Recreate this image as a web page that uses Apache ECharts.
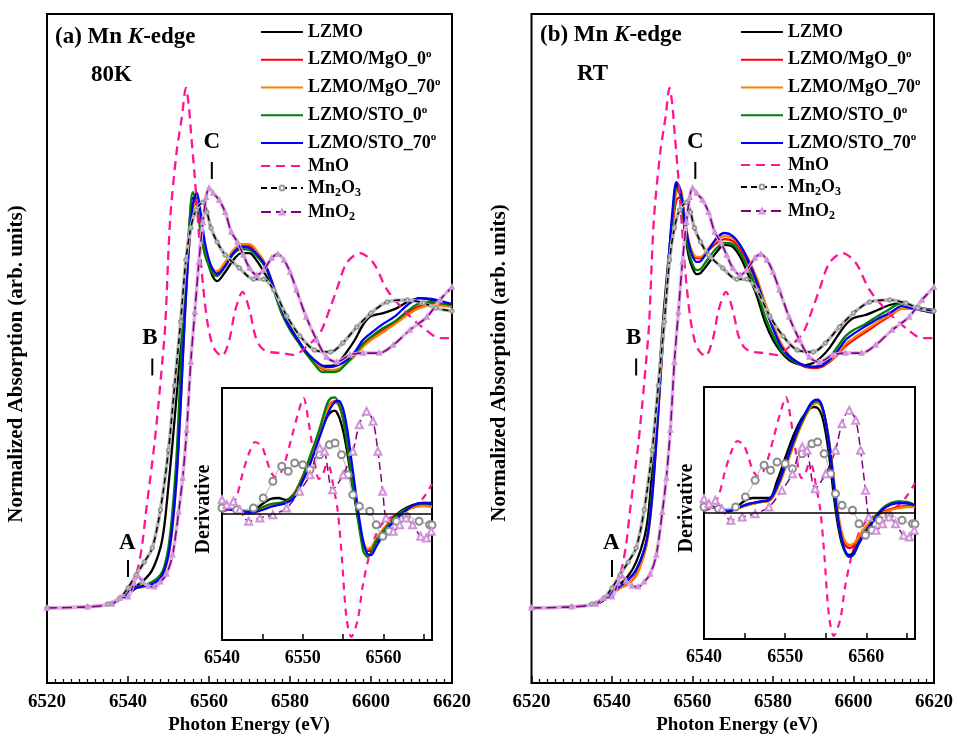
<!DOCTYPE html>
<html>
<head>
<meta charset="utf-8">
<title>Mn K-edge XANES</title>
<script src="https://cdn.jsdelivr.net/npm/echarts@6.0.0/dist/echarts.min.js"></script>
<style>
  html, body { margin: 0; padding: 0; background: #fff; }
  #chart { width: 956px; height: 735px; }
</style>
</head>
<body>
<div id="chart"></div>
<script>
// ---------- data (normalized absorption, step = 1) ----------
const eMain = [6520, 6530, 6536, 6538, 6540, 6542, 6544, 6546, 6548, 6549, 6550, 6551, 6552, 6553, 6554, 6555, 6556, 6557, 6558, 6559, 6560, 6561, 6562, 6564, 6566, 6568, 6570, 6572, 6574, 6576, 6578, 6580, 6582, 6584, 6586, 6588, 6590, 6592, 6594, 6596, 6598, 6600, 6603, 6606, 6609, 6612, 6615, 6618, 6620];

// (a) 80K
const aLZMO  = [0, .004, .014, .036, .058, .079, .101, .137, .216, .299, .442, .594, .766, .946, 1.144, 1.331, 1.475, 1.475, 1.378, 1.288, 1.230, 1.191, 1.176, 1.209, 1.252, 1.277, 1.277, 1.245, 1.198, 1.151, 1.086, 1.014, .964, .921, .892, .871, .871, .885, .921, .964, 1.018, 1.050, 1.061, 1.076, 1.101, 1.115, 1.108, 1.094, 1.083];
const aMgO0  = [0, .004, .014, .032, .05, .072, .076, .083, .104, .137, .198, .309, .489, .755, 1.054, 1.295, 1.450, 1.475, 1.396, 1.299, 1.245, 1.216, 1.205, 1.237, 1.281, 1.302, 1.302, 1.273, 1.230, 1.147, 1.061, 1.004, .960, .917, .885, .860, .853, .856, .881, .910, .946, .971, 1.0, 1.029, 1.061, 1.086, 1.094, 1.090, 1.086];
const aMgO70 = [0, .004, .014, .032, .05, .072, .076, .083, .104, .133, .187, .291, .460, .730, 1.036, 1.281, 1.432, 1.468, 1.388, 1.295, 1.245, 1.219, 1.212, 1.245, 1.288, 1.309, 1.309, 1.281, 1.237, 1.155, 1.065, 1.004, .960, .921, .888, .863, .856, .860, .881, .906, .939, .964, .993, 1.022, 1.054, 1.079, 1.090, 1.086, 1.083];
const aSTO0  = [0, .004, .014, .032, .05, .072, .083, .094, .119, .151, .219, .353, .55, .863, 1.144, 1.353, 1.496, 1.450, 1.342, 1.270, 1.230, 1.201, 1.194, 1.230, 1.273, 1.291, 1.288, 1.263, 1.223, 1.140, 1.058, 1.0, .957, .914, .878, .849, .849, .853, .881, .914, .950, .975, 1.007, 1.032, 1.068, 1.097, 1.101, 1.094, 1.090];
const aSTO70 = [0, .004, .014, .032, .05, .072, .079, .086, .108, .137, .191, .299, .468, .730, 1.036, 1.288, 1.450, 1.493, 1.414, 1.313, 1.252, 1.216, 1.201, 1.230, 1.277, 1.299, 1.295, 1.270, 1.230, 1.155, 1.072, 1.007, .964, .921, .892, .871, .867, .874, .892, .921, .964, .989, 1.022, 1.050, 1.090, 1.115, 1.112, 1.101, 1.094];

// (b) RT
const bLZMO  = [0, .004, .014, .029, .058, .086, .115, .165, .252, .335, .504, .683, .899, 1.090, 1.252, 1.396, 1.522, 1.486, 1.367, 1.270, 1.223, 1.201, 1.205, 1.241, 1.281, 1.306, 1.299, 1.259, 1.194, 1.122, 1.029, .964, .921, .892, .878, .874, .881, .903, .935, .978, 1.018, 1.043, 1.054, 1.072, 1.090, 1.097, 1.086, 1.076, 1.072];
const bMgO0  = [0, .004, .014, .029, .05, .072, .086, .119, .198, .27, .414, .604, .82, 1.029, 1.209, 1.367, 1.468, 1.478, 1.403, 1.317, 1.273, 1.259, 1.259, 1.288, 1.313, 1.327, 1.320, 1.288, 1.237, 1.169, 1.083, 1.007, .946, .906, .881, .867, .863, .867, .885, .910, .942, .964, .993, 1.022, 1.050, 1.076, 1.076, 1.068, 1.065];
const bMgO70 = [0, .004, .014, .029, .05, .072, .086, .115, .191, .259, .399, .586, .809, 1.029, 1.216, 1.388, 1.496, 1.504, 1.414, 1.324, 1.281, 1.263, 1.263, 1.295, 1.324, 1.338, 1.331, 1.299, 1.252, 1.187, 1.101, 1.022, .953, .910, .885, .871, .867, .871, .888, .914, .950, .971, 1.0, 1.029, 1.054, 1.076, 1.076, 1.068, 1.065];
const bSTO0  = [0, .004, .014, .029, .054, .079, .101, .137, .209, .281, .424, .615, .838, 1.043, 1.223, 1.396, 1.511, 1.482, 1.378, 1.288, 1.237, 1.216, 1.219, 1.259, 1.295, 1.313, 1.309, 1.273, 1.216, 1.144, 1.050, .982, .928, .899, .881, .871, .867, .874, .899, .939, .978, 1.0, 1.022, 1.050, 1.076, 1.097, 1.086, 1.068, 1.061];
const bSTO70 = [0, .004, .014, .029, .054, .079, .101, .137, .209, .273, .399, .597, .827, 1.043, 1.237, 1.424, 1.532, 1.504, 1.403, 1.317, 1.266, 1.245, 1.248, 1.288, 1.331, 1.349, 1.338, 1.302, 1.245, 1.173, 1.086, 1.007, .942, .906, .885, .871, .867, .871, .892, .924, .964, .986, 1.014, 1.040, 1.061, 1.086, 1.076, 1.068, 1.065];

// reference oxides (same in both panels)
const eMnO = [6520, 6530, 6535, 6538, 6540, 6541.5, 6542.5, 6543.5, 6544.5, 6545.5, 6546.5, 6547.5, 6548.5, 6549.2, 6550.4, 6552, 6553.3, 6554.3, 6555, 6555.6, 6556.5, 6557.3, 6558, 6558.8, 6559.6, 6560.5, 6561.5, 6563.2, 6565, 6566.5, 6568.3, 6570, 6571.5, 6573, 6575, 6578, 6581, 6584, 6587.4, 6590, 6591.5, 6594, 6597.3, 6600.6, 6604, 6608.8, 6613, 6617, 6620];
const vMnO = [0, .004, .014, .036, .065, .101, .147, .227, .353, .468, .586, .730, .892, 1.018, 1.396, 1.640, 1.766, 1.871, 1.809, 1.701, 1.547, 1.388, 1.245, 1.122, 1.029, .964, .928, .906, .964, 1.072, 1.137, 1.072, .975, .935, .921, .917, .910, .939, .989, 1.083, 1.144, 1.241, 1.277, 1.241, 1.144, 1.061, 1.007, .971, .971];
const eMn2O3 = [6520, 6530, 6535, 6538, 6540, 6542, 6544, 6546, 6548, 6550, 6551.5, 6553, 6554.3, 6555.5, 6556.8, 6558.5, 6559.5, 6560.5, 6562, 6564, 6567.5, 6571, 6573.5, 6576, 6579.2, 6582.5, 6586, 6590, 6593, 6596.5, 6600, 6604, 6609, 6613, 6616, 6620];
const vMn2O3 = [0, .004, .014, .036, .072, .119, .165, .216, .353, .568, .80, 1.03, 1.252, 1.367, 1.432, 1.460, 1.424, 1.367, 1.317, 1.270, 1.223, 1.183, 1.183, 1.144, 1.050, .978, .928, .921, .953, 1.011, 1.061, 1.101, 1.108, 1.097, 1.079, 1.068];
const eMnO2 = [6520, 6530, 6536, 6538, 6540, 6541.5, 6542.5, 6543.5, 6545, 6546.5, 6548, 6549.5, 6551, 6552.5, 6553.5, 6554.5, 6555.5, 6556.5, 6557.5, 6558.5, 6559.3, 6560, 6561, 6562.5, 6564, 6565.5, 6567, 6568.5, 6570, 6571.8, 6573.5, 6575.5, 6577, 6578.5, 6580, 6581.6, 6584, 6586.6, 6589, 6591.5, 6594.8, 6598, 6602, 6605.5, 6609.6, 6613.8, 6617, 6620];
const vMnO2 = [0, .004, .014, .036, .04, .09, .115, .097, .079, .076, .094, .122, .191, .345, .468, .640, .885, 1.065, 1.245, 1.388, 1.478, 1.511, 1.493, 1.468, 1.424, 1.353, 1.317, 1.270, 1.223, 1.198, 1.216, 1.259, 1.273, 1.252, 1.209, 1.144, 1.047, .964, .903, .885, .910, .917, .917, .946, 1.0, 1.047, 1.108, 1.155];

// derivative insets
const eDer = [6540, 6541, 6542, 6543, 6544, 6545, 6546, 6547, 6548, 6549, 6550, 6551, 6552, 6553, 6553.5, 6554, 6554.5, 6555, 6555.5, 6556, 6556.5, 6557, 6557.5, 6558, 6558.5, 6559, 6560, 6561, 6562, 6563, 6564, 6565, 6566];
const daLZMO  = [.07, .05, .03, .02, .04, .10, .15, .16, .14, .21, .37, .57, .78, .97, 1.02, 1.033, .97, .83, .62, .36, .12, -.12, -.30, -.37, -.36, -.29, -.17, -.06, .02, .07, .10, .11, .11];
const daMgO0  = [.07, .05, .03, .01, .02, .06, .09, .10, .12, .21, .38, .57, .81, 1.05, 1.11, 1.13, 1.08, .95, .72, .44, .16, -.10, -.30, -.37, -.35, -.27, -.15, -.06, .01, .05, .08, .09, .08];
const daMgO70 = [.07, .05, .02, 0, .01, .05, .09, .10, .12, .20, .37, .56, .80, 1.04, 1.10, 1.12, 1.08, .97, .75, .47, .18, -.08, -.28, -.35, -.33, -.26, -.15, -.07, 0, .04, .07, .08, .07];
const daSTO0  = [.077, .053, .033, .02, .027, .067, .10, .11, .127, .20, .37, .60, .83, 1.10, 1.16, 1.167, 1.093, .96, .693, .393, .127, -.14, -.373, -.43, -.38, -.28, -.17, -.07, .01, .06, .093, .107, .10];
const daSTO70 = [.06, .045, .03, .02, .02, .04, .07, .09, .11, .17, .33, .52, .75, .98, 1.07, 1.12, 1.13, 1.05, .85, .55, .25, -.05, -.28, -.40, -.41, -.34, -.20, -.10, -.02, .05, .10, .11, .10];
const dbLZMO  = [.09, .06, .03, .02, .06, .12, .15, .15, .15, .32, .55, .77, .94, 1.04, 1.06, 1.05, .98, .80, .52, .17, -.12, -.31, -.40, -.42, -.38, -.30, -.17, -.06, .04, .09, .11, .10, .08];
const dbMgO0  = [.09, .06, .03, .02, .04, .07, .09, .11, .12, .24, .45, .68, .89, 1.05, 1.10, 1.11, 1.06, .91, .66, .31, -.01, -.23, -.33, -.35, -.32, -.25, -.14, -.05, .01, .04, .06, .07, .06];
const dbMgO70 = [.09, .06, .03, .02, .04, .07, .09, .11, .12, .24, .44, .67, .88, 1.04, 1.09, 1.10, 1.06, .92, .68, .34, .02, -.20, -.30, -.32, -.30, -.24, -.13, -.05, 0, .03, .05, .06, .06];
const dbSTO0  = [.09, .06, .03, .02, .04, .08, .10, .115, .13, .26, .47, .70, .90, 1.06, 1.11, 1.12, 1.07, .90, .63, .27, -.06, -.28, -.41, -.44, -.41, -.32, -.17, -.05, .05, .10, .115, .11, .08];
const dbSTO70 = [.10, .067, .033, .017, .043, .077, .10, .117, .133, .267, .483, .717, .917, 1.077, 1.123, 1.133, 1.083, .917, .65, .283, -.05, -.267, -.40, -.433, -.40, -.317, -.183, -.067, .033, .083, .10, .097, .077];

const eDMnO = [6540, 6541, 6541.8, 6542.6, 6543.4, 6544.1, 6544.9, 6545.5, 6546, 6546.6, 6547.2, 6547.8, 6548.6, 6549.4, 6550.1, 6550.7, 6551.3, 6552, 6552.5, 6553, 6553.4, 6553.8, 6554.3, 6554.8, 6555.4, 6556, 6556.8, 6557.4, 6558.1, 6559, 6560, 6561, 6562, 6563, 6564, 6565, 6566];
const dMnO  = [.02, .06, .17, .42, .62, .72, .68, .55, .43, .37, .40, .52, .76, 1.0, 1.16, .93, .62, .35, .40, .50, .45, .27, .05, -.39, -1.03, -1.23, -1.06, -.73, -.46, -.22, -.08, -.03, 0, .03, .08, .17, .30];
const eDMn2O3 = [6540, 6541.8, 6543.9, 6545.1, 6546.3, 6547.4, 6548.2, 6549, 6550, 6550.9, 6552.1, 6553.3, 6554, 6554.8, 6555.6, 6556.2, 6557, 6558.3, 6559.1, 6559.9, 6560.7, 6561.6, 6562.8, 6564.4, 6565.7, 6566];
const dMn2O3  = [.06, .043, .06, .16, .327, .477, .427, .51, .493, .443, .593, .693, .71, .593, .393, .193, .077, .027, -.107, -.223, -.173, -.073, -.023, -.073, -.107, -.11];
const eDMnO2 = [6540, 6540.6, 6541.4, 6542.2, 6543.3, 6544.7, 6546.3, 6548, 6549.6, 6550.9, 6552.1, 6552.7, 6553.7, 6555, 6556.2, 6557, 6557.9, 6558.7, 6559.3, 6559.9, 6560.3, 6561.2, 6562, 6562.8, 6563.6, 6564.6, 6565.3, 6565.9];
const dMnO2  = [.143, .093, .127, .043, -.073, -.04, -.007, .06, .227, .393, .66, .627, .243, .393, .627, .893, 1.027, .927, .627, .227, -.04, -.173, -.107, -.04, -.107, -.223, -.24, -.173];

// feature markers A, B, C
const markLabels = ['A', 'B', 'C'];
const markTextE = [6539.8, 6545.4, 6560.7];
const markTextV = [0.234, 0.971, 1.676];
const markTickE = [6540, 6546, 6560.7];
const markTickV = [0.142, 0.867, 1.574];

const sampleNames = ['LZMO', 'LZMO/MgO_0', 'LZMO/MgO_70', 'LZMO/STO_0', 'LZMO/STO_70'];
const refNames = ['MnO', 'Mn2O3', 'MnO2'];
const sampleColors = ['#000000', '#ff0000', '#ff8000', '#008000', '#0000ff'];

// ---------- chart ----------
const FONT = 'Liberation Serif';
const PINK = '#ff1493', PURPLE = '#800080', PLUM = '#cf94d8', GREY = '#9a9a9a';
const pairs = (e, v) => e.map((x, i) => [x, v[i]]);

var chart = echarts.init(document.getElementById('chart'));

function mainSeries(xi, samples) {
  const out = [];
  samples.forEach((v, i) => {
    out.push({
      type: 'line', name: sampleNames[i], xAxisIndex: xi, yAxisIndex: xi,
      data: pairs(eMain, v), symbol: 'none', smooth: 0.3,
      lineStyle: { color: sampleColors[i], width: 2.3 }, itemStyle: { color: sampleColors[i] }
    });
  });
  out.push({
    type: 'line', name: 'MnO', xAxisIndex: xi, yAxisIndex: xi, data: pairs(eMnO, vMnO),
    symbol: 'none', smooth: 0.3, lineStyle: { color: PINK, width: 2.3, type: [9, 6] }, itemStyle: { color: PINK }
  });
  out.push({
    type: 'line', name: 'Mn2O3 bg', xAxisIndex: xi, yAxisIndex: xi, data: pairs(eMn2O3, vMn2O3),
    symbol: 'none', smooth: 0.3, lineStyle: { color: '#b4b4b4', width: 3.5 }
  });
  out.push({
    type: 'line', name: 'Mn2O3', xAxisIndex: xi, yAxisIndex: xi, data: pairs(eMn2O3, vMn2O3),
    symbol: 'emptyCircle', symbolSize: 3.5, smooth: 0.3,
    lineStyle: { color: '#000', width: 1.5, type: [6, 4] }, itemStyle: { color: GREY, borderWidth: 1 }
  });
  out.push({
    type: 'line', name: 'MnO2 bg', xAxisIndex: xi, yAxisIndex: xi, data: pairs(eMnO2, vMnO2),
    symbol: 'none', smooth: 0.3, lineStyle: { color: '#dcb0e2', width: 3.5 }
  });
  out.push({
    type: 'line', name: 'MnO2', xAxisIndex: xi, yAxisIndex: xi, data: pairs(eMnO2, vMnO2),
    symbol: 'emptyTriangle', symbolSize: 3.5, smooth: 0.3,
    lineStyle: { color: PURPLE, width: 1.6, type: [10, 5] }, itemStyle: { color: PLUM, borderWidth: 1 }
  });
  // A, B, C markers
  out.push({
    type: 'scatter', xAxisIndex: xi, yAxisIndex: xi, symbol: 'rect', symbolSize: [2, 17],
    itemStyle: { color: '#000', opacity: 1 }, data: pairs(markTickE, markTickV), silent: true
  });
  out.push({
    type: 'scatter', xAxisIndex: xi, yAxisIndex: xi, symbolSize: 1,
    itemStyle: { color: 'rgba(0,0,0,0)', opacity: 1 },
    data: markLabels.map((t, i) => [markTextE[i], markTextV[i], t]), silent: true,
    label: { show: true, position: 'inside', formatter: p => p.data[2], color: '#000',
             fontFamily: FONT, fontWeight: 'bold', fontSize: 23 }
  });
  return out;
}

function insetSeries(xi, samples, sm) {
  const out = [];
  out.push({
    type: 'line', name: 'MnO', xAxisIndex: xi, yAxisIndex: xi, data: pairs(eDMnO, dMnO),
    symbol: 'none', smooth: 0.3, lineStyle: { color: PINK, width: 2.2, type: [7, 6] },
    markLine: { silent: true, symbol: ['none', 'none'], label: { show: false },
                lineStyle: { color: '#000', width: 1.5, type: 'solid' }, data: [{ yAxis: 0 }] }
  });
  out.push({
    type: 'line', name: 'Mn2O3', xAxisIndex: xi, yAxisIndex: xi, data: pairs(eDMn2O3, dMn2O3),
    symbol: 'emptyCircle', symbolSize: 7, smooth: 0.3,
    lineStyle: { color: '#b0b0b0', width: 1 }, itemStyle: { color: '#8c8c8c', borderWidth: 1 }
  });
  out.push({
    type: 'line', name: 'MnO2', xAxisIndex: xi, yAxisIndex: xi, data: pairs(eDMnO2, dMnO2),
    symbol: 'emptyTriangle', symbolSize: 7, smooth: 0.3,
    lineStyle: { color: PURPLE, width: 1.5, type: [8, 4] }, itemStyle: { color: PLUM, borderWidth: 1 }
  });
  samples.forEach((v, i) => {
    out.push({
      type: 'line', name: sampleNames[i], xAxisIndex: xi, yAxisIndex: xi,
      data: pairs(eDer, v), symbol: 'none', smooth: sm,
      lineStyle: { color: sampleColors[i], width: 2.3 }
    });
  });
  return out;
}

const legendRich = {
  n: { fontFamily: FONT, fontWeight: 'bold', fontSize: 18, color: '#000', lineHeight: 22 },
  p: { fontFamily: FONT, fontWeight: 'bold', fontSize: 11, color: '#000', verticalAlign: 'top', lineHeight: 12 },
  s: { fontFamily: FONT, fontWeight: 'bold', fontSize: 12, color: '#000', verticalAlign: 'bottom', lineHeight: 12 }
};
function legendLabel(name) {
  if (name === 'Mn2O3') return '{n|Mn}{s|2}{n|O}{s|3}';
  if (name === 'MnO2') return '{n|MnO}{s|2}';
  if (/_\d+$/.test(name)) return '{n|' + name + '}{p|o}';
  return '{n|' + name + '}';
}
function makeLegend(names, left, top, gap) {
  return {
    data: names.map(n => (n === 'Mn2O3' || n === 'MnO2') ? n : { name: n, itemStyle: { opacity: 0 } }),
    orient: 'vertical', left: left, top: top, itemWidth: 42, itemHeight: 6, itemGap: gap,
    selectedMode: false, formatter: legendLabel,
    textStyle: { rich: legendRich }
  };
}

function mainX(gi) {
  return {
    type: 'value', gridIndex: gi, min: 6520, max: 6620, interval: 20,
    axisLine: { onZero: false, lineStyle: { color: '#000', width: 2 } },
    axisTick: { inside: true, length: 7, lineStyle: { color: '#000', width: 1.5 } },
    minorTick: { show: true, splitNumber: 10, length: 4, lineStyle: { color: '#000', width: 1.2 } },
    axisLabel: { color: '#000', fontFamily: FONT, fontWeight: 'bold', fontSize: 19, margin: 10,
                 formatter: v => String(v) },
    splitLine: { show: false }
  };
}
function insetX(gi) {
  return {
    type: 'value', gridIndex: gi, min: 6540, max: 6566, interval: 5,
    axisLine: { onZero: false, lineStyle: { color: '#000', width: 2 } },
    axisTick: { inside: true, length: 6, lineStyle: { color: '#000', width: 1.5 } },
    axisLabel: { color: '#000', fontFamily: FONT, fontWeight: 'bold', fontSize: 18, margin: 9,
                 formatter: v => (v % 10 === 0 ? String(v) : '') },
    splitLine: { show: false }
  };
}
function hiddenY(gi, min, max) {
  return {
    type: 'value', gridIndex: gi, min: min, max: max,
    axisLine: { show: false }, axisTick: { show: false }, axisLabel: { show: false }, splitLine: { show: false }
  };
}

const bold = (size) => ({ fontFamily: FONT, fontWeight: 'bold', fontSize: size, fill: '#000' });
function text(x, y, str, size) {
  return { type: 'text', x: x, y: y, z: 10,
    style: Object.assign({ text: str, align: 'left', verticalAlign: 'middle' }, bold(size)) };
}
const titleRich = {
  t: { fontFamily: FONT, fontWeight: 'bold', fontSize: 23, fill: '#000' },
  k: { fontFamily: FONT, fontWeight: 'bold', fontStyle: 'italic', fontSize: 23, fill: '#000' }
};
function title(x, y, tag) {
  return { type: 'text', x: x, y: y, z: 10,
    style: { text: '{t|(' + tag + ') Mn }{k|K}{t|-edge}', rich: titleRich, align: 'left', verticalAlign: 'middle' } };
}
function yName(x, y, str, size) {
  return { type: 'text', x: x, y: y, rotation: Math.PI / 2, z: 10,
    style: Object.assign({ text: str, align: 'center', verticalAlign: 'middle' }, bold(size)) };
}
function xName(x, y) {
  return { type: 'text', x: x, y: y, z: 10,
    style: Object.assign({ text: 'Photon Energy (eV)', align: 'center', verticalAlign: 'middle' }, bold(19)) };
}

const gridBox = { show: true, borderColor: '#000', borderWidth: 2 };

var option = {
  animation: false,
  backgroundColor: '#fff',
  grid: [
    Object.assign({ left: 47, top: 14, width: 405, height: 669 }, gridBox),
    Object.assign({ left: 222, top: 388, width: 210, height: 252, backgroundColor: '#fff' }, gridBox),
    Object.assign({ left: 531.5, top: 14, width: 405, height: 669 }, gridBox),
    Object.assign({ left: 704, top: 387, width: 211, height: 252, backgroundColor: '#fff' }, gridBox)
  ],
  xAxis: [mainX(0), insetX(1), mainX(2), insetX(3)],
  yAxis: [
    hiddenY(0, -0.27, 2.137), hiddenY(1, -1.26, 1.26),
    hiddenY(2, -0.27, 2.137), hiddenY(3, -1.26, 1.26)
  ],
  legend: [
    makeLegend(sampleNames, 255, 18, 7.75),
    makeLegend(refNames, 255, 152, 4),
    makeLegend(sampleNames, 735, 18, 7.75),
    makeLegend(refNames, 735, 151, 4)
  ],
  graphic: [
    title(55, 37, 'a'), text(91, 75, '80K', 23),
    title(540, 35, 'b'), text(577, 74, 'RT', 23),
    yName(17, 364, 'Normalized Absorption (arb. units)', 21),
    yName(500, 363, 'Normalized Absorption (arb. units)', 21),
    yName(204, 509, 'Derivative', 20),
    yName(687, 508, 'Derivative', 20),
    xName(249, 725), xName(737, 725)
  ],
  series: [].concat(
    mainSeries(0, [aLZMO, aMgO0, aMgO70, aSTO0, aSTO70]),
    insetSeries(1, [daLZMO, daMgO0, daMgO70, daSTO0, daSTO70], 0.2),
    mainSeries(2, [bLZMO, bMgO0, bMgO70, bSTO0, bSTO70]),
    insetSeries(3, [dbLZMO, dbMgO0, dbMgO70, dbSTO0, dbSTO70], 0.4)
  )
};

chart.setOption(option);
</script>
</body>
</html>
